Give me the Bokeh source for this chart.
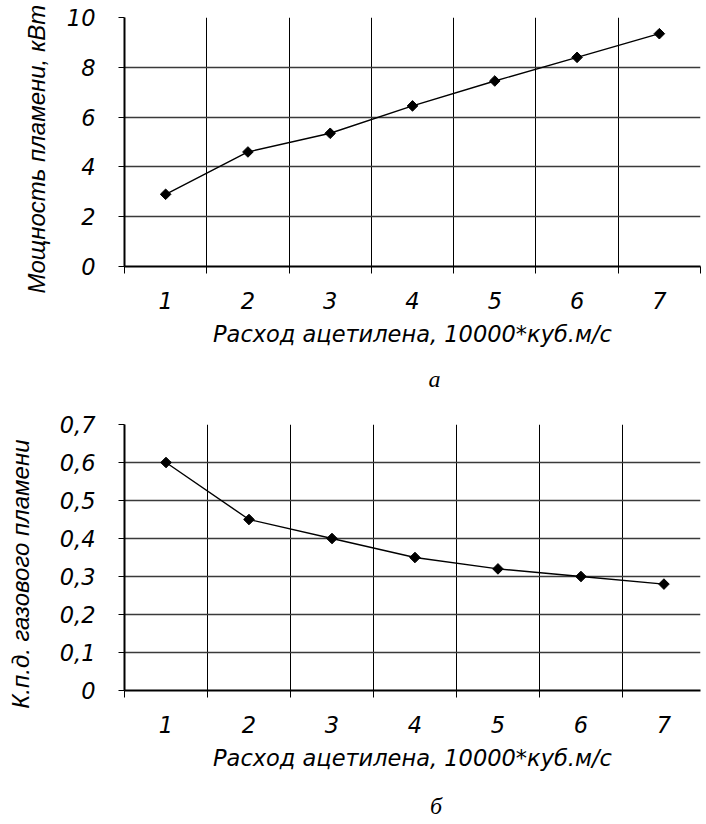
import numpy as np
from bokeh.plotting import figure
from bokeh.models import FixedTicker, Range1d, Title
from bokeh.layouts import column
from bokeh.core.properties import value
from bokeh.embed import file_html
from bokeh.resources import INLINE

# ---- data ----
categories = ["1", "2", "3", "4", "5", "6", "7"]
power_kw = [2.9, 4.6, 5.35, 6.45, 7.45, 8.4, 9.35]
efficiency = [0.60, 0.45, 0.40, 0.35, 0.32, 0.30, 0.28]
power_ticks = [0, 2, 4, 6, 8, 10]
power_tick_labels = ["0", "2", "4", "6", "8", "10"]
eff_ticks = [0.0, 0.1, 0.2, 0.3, 0.4, 0.5, 0.6, 0.7]
eff_tick_labels = ["0", "0,1", "0,2", "0,3", "0,4", "0,5", "0,6", "0,7"]
x_title = "Расход ацетилена, 10000*куб.м/с"
y_title_a = "Мощность пламени, кВт"
y_title_b = "К.п.д. газового пламени"
caption_a = "а"
caption_b = "б"

HFONT = "DejaVu Sans"       # horizontal texts
VFONT = "Liberation Sans"   # rotated axis titles
HFS = "22.5px"
VFS = "24px"
W = 706
NBSP = "\u00a0"

xpos = [i + 1 for i in range(len(categories))]
bounds = [i + 0.5 for i in range(len(categories) + 1)]


def caption_fig(text, height, cx, cy):
    f = figure(width=W, height=height, output_backend="svg", toolbar_location=None,
               x_range=Range1d(0, W), y_range=Range1d(height, 0),
               x_axis_location=None, y_axis_location=None,
               min_border=0, min_border_left=0, min_border_right=0,
               min_border_top=0, min_border_bottom=0)
    f.outline_line_color = None
    f.grid.visible = False
    f.text(x=[cx], y=[cy], text=[text], text_align="center", text_baseline="middle",
           text_font=value("Liberation Serif"), text_font_style="italic",
           text_font_size="24px", text_color="black")
    return f


def make(values, yticks, ylabels, width, height, y_end, x_end, borders):
    p = figure(width=width, height=height, output_backend="svg", toolbar_location=None,
               x_range=Range1d(0.5, x_end), y_range=Range1d(0, y_end),
               min_border_left=borders[0], min_border_right=borders[1],
               min_border_top=borders[2], min_border_bottom=borders[3])
    p.outline_line_color = None
    p.background_fill_color = "white"
    p.border_fill_color = "white"

    xa = p.xaxis[0]
    xa.ticker = FixedTicker(ticks=xpos, minor_ticks=bounds)
    xa.major_label_overrides = {x: c for x, c in zip(xpos, categories)}
    xa.major_tick_line_color = None
    xa.major_tick_out = 0
    xa.major_tick_in = 0
    xa.minor_tick_line_color = "black"
    xa.minor_tick_out = 7
    xa.minor_tick_in = 0
    xa.minor_tick_line_width = 1
    xa.axis_line_color = "black"
    xa.axis_line_width = 2
    xa.major_label_text_font = HFONT
    xa.major_label_text_font_style = "italic"
    xa.major_label_text_font_size = HFS
    xa.major_label_text_color = "black"
    xa.major_label_standoff = 18
    xa.axis_label = x_title
    xa.axis_label_text_font = HFONT
    xa.axis_label_text_font_style = "italic"
    xa.axis_label_text_font_size = HFS
    xa.axis_label_text_color = "black"
    xa.axis_label_standoff = 9

    ya = p.yaxis[0]
    ya.ticker = FixedTicker(ticks=yticks)
    ya.major_label_overrides = {t: l for t, l in zip(yticks, ylabels)}
    ya.minor_tick_line_color = None
    ya.major_tick_out = 6
    ya.major_tick_in = 0
    ya.major_tick_line_color = "black"
    ya.axis_line_color = "black"
    ya.axis_line_width = 2
    ya.major_label_text_font = HFONT
    ya.major_label_text_font_style = "italic"
    ya.major_label_text_font_size = HFS
    ya.major_label_text_color = "black"
    ya.major_label_standoff = 23

    p.xgrid.grid_line_color = None
    p.xgrid.minor_grid_line_color = "black"
    p.xgrid.minor_grid_line_width = 1
    p.ygrid.grid_line_color = "#3a3a3a"
    p.ygrid.grid_line_width = 1.3

    p.line(xpos, values, line_color="black", line_width=1.4)
    p.scatter(xpos, values, marker="square", angle=np.pi / 4, size=7.5,
              fill_color="black", line_color="black")
    return p


H1, H2 = 362, 388
p1 = make(power_kw, power_ticks, power_tick_labels, width=W, height=H1,
          y_end=10, x_end=7.5, borders=(124, 6, 17, 96))
# rotated title of the upper chart: a side title, shifted a little below the frame centre
p1.add_layout(Title(text=y_title_a, align="left", offset=-27, standoff=28,
                    text_font=VFONT, text_font_style="italic", text_font_size=VFS,
                    text_color="black"), "left")

p2 = make(efficiency, eff_ticks, eff_tick_labels, width=W, height=H2,
          y_end=0.7, x_end=0.5 + (W - 123) / 84.0, borders=(123, 0, 26, 96))
ya2 = p2.yaxis[0]
ya2.axis_label = y_title_b + NBSP * 5
ya2.axis_label_text_font = VFONT
ya2.axis_label_text_font_style = "italic"
ya2.axis_label_text_font_size = VFS
ya2.axis_label_text_color = "black"
ya2.axis_label_standoff = 23

cap1 = caption_fig(caption_a, 36, 380, 16)
cap2 = caption_fig(caption_b, 38, 382, 19)

layout = column(p1, cap1, p2, cap2, spacing=0)
open("out.html", "w").write(file_html(layout, INLINE))
